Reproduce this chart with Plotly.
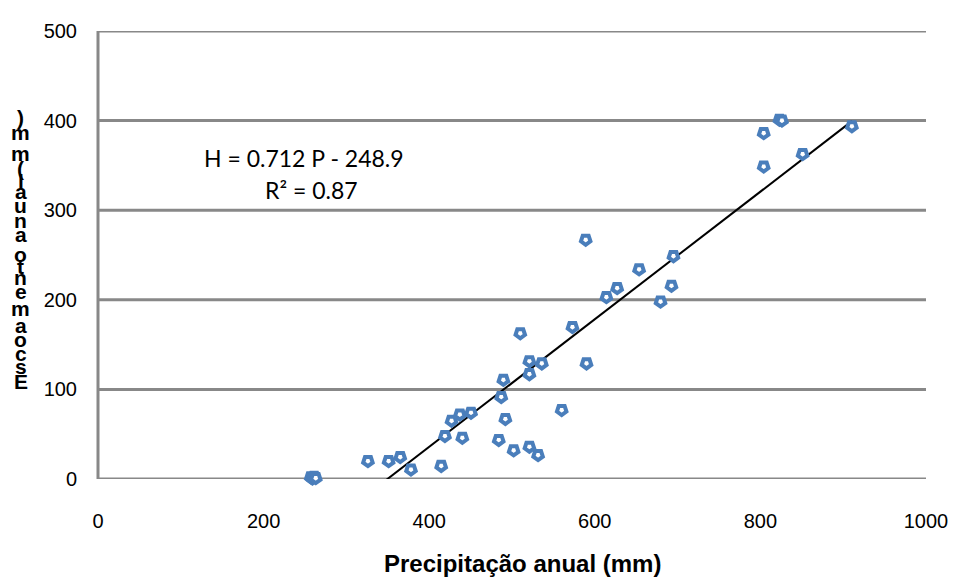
import plotly.graph_objects as go

# Data
precip = [257, 259, 261, 263, 326, 351, 365, 378, 414.5, 419, 427, 437, 440, 450.5, 484, 487,
          489.6, 492, 502, 510, 521, 521, 521, 531.5, 536, 560, 573, 589, 590, 614, 627, 653.5,
          679.4, 692.6, 695, 804, 804, 823, 826, 851, 910.5]
escoamento = [2, 0.5, 2.5, 1, 20, 20, 24.5, 10.6, 14.6, 48, 65, 72, 46, 74, 43.6, 91.6,
              110.6, 67, 32, 162.6, 131.5, 117, 36, 26.7, 129, 77, 169.6, 267, 129, 203, 213,
              234, 198, 215.7, 248.7, 386, 348.7, 401, 400, 362.6, 393.7]

slope = 0.712
intercept = -248.9
r2 = 0.87

x_ticks = [0, 200, 400, 600, 800, 1000]
y_ticks = [0, 100, 200, 300, 400, 500]

x_title = "Precipitação anual (mm)"
y_title = "Escoamento anual (mm)"

blue = "#4A7EBB"
grid = "#888888"
FONT = "Liberation Sans, Arial, sans-serif"

# page has an 8px body margin: plot area wanted at x 98..933, y 24..479 in the window
OFF = 8
PX0, PX1, PY0, PY1 = 98, 933, 24, 479
W, H = 960 - OFF, 578 - OFF


def px(xabs):
    return (xabs - PX0) / (PX1 - PX0)


def py(yabs):
    return (PY1 - yabs) / (PY1 - PY0)


fig = go.Figure()

xl = [min(precip), max(precip)]
fig.add_trace(go.Scatter(x=xl, y=[slope * v + intercept for v in xl], mode="lines",
                         line=dict(color="black", width=2), hoverinfo="skip", showlegend=False))
fig.add_trace(go.Scatter(x=precip, y=escoamento, mode="markers", cliponaxis=False,
                         marker=dict(symbol="pentagon", angle=180, size=10, color="white",
                                     line=dict(color=blue, width=4)),
                         showlegend=False))

fig.update_layout(
    width=W, height=H,
    margin=dict(l=PX0 - OFF, r=W - (PX1 - OFF), t=PY0 - OFF, b=H - (PY1 - OFF)),
    plot_bgcolor="white", paper_bgcolor="white",
    font=dict(family=FONT, size=20, color="black"),
    xaxis=dict(range=[0, 1000], tickvals=x_ticks, showgrid=False, zeroline=False,
               showline=False, ticks="", ticklabelstandoff=28,
               tickfont=dict(size=20)),
    yaxis=dict(range=[0, 500], tickvals=y_ticks, showgrid=False,
               zeroline=False, showline=False, ticks="",
               ticklabelstandoff=20, tickfont=dict(size=20)),
)

# horizontal gridlines at every y tick, and the left axis line
for v in y_ticks:
    fig.add_shape(type="line", xref="paper", yref="y", x0=0, x1=1, y0=v, y1=v,
                  line=dict(color=grid, width=3), layer="below")
fig.add_shape(type="line", xref="paper", yref="y", x0=0, x1=0, y0=y_ticks[0], y1=y_ticks[-1],
              line=dict(color=grid, width=3), layer="below")

# x axis title
fig.add_annotation(text="<b>" + x_title + "</b>", xref="paper", yref="paper", x=px(526),
                   y=py(565), xanchor="center", yanchor="middle", showarrow=False,
                   font=dict(size=24, family=FONT))

# y axis title drawn as stacked upright characters (as in the reference)
adv = {"E": .667, "s": .556, "c": .556, "o": .611, "a": .556, "m": .889, "e": .556,
       "n": .611, "t": .333, " ": .278, "u": .611, "l": .278, "(": .333, ")": .333}
widths = [adv.get(ch, .6) for ch in y_title]
centers = []
acc = 0
for w in widths:
    centers.append(acc + w / 2)
    acc += w
bottom_px, top_px = 380, 112
scale = (bottom_px - top_px) / (centers[-1] - centers[0])
for ch, c in zip(y_title, centers):
    if ch == " ":
        continue
    yy = bottom_px - (c - centers[0]) * scale
    fig.add_annotation(text="<b>" + ch + "</b>", xref="paper", yref="paper",
                       x=px(20), y=py(yy), xanchor="center",
                       yanchor="middle", showarrow=False,
                       font=dict(size=21, family=FONT))

# equation
fig.add_annotation(text=f"H = {slope} P - {abs(intercept)}", x=px(306), y=py(153),
                   xref="paper", yref="paper", xanchor="center", yanchor="middle",
                   showarrow=False, font=dict(size=23, family="Lato, sans-serif"))
fig.add_annotation(text=f"R² = {r2}", x=px(313), y=py(185), xref="paper", yref="paper",
                   xanchor="center", yanchor="middle",
                   showarrow=False, font=dict(size=23, family="Lato, sans-serif"))

fig.write_html("out.html")
